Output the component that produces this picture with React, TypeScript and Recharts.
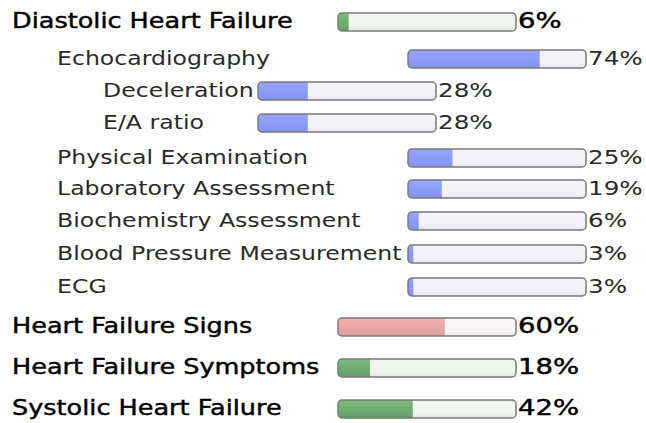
import React from 'react';
import { BarChart, Bar, XAxis, YAxis, Rectangle } from 'recharts';

// Criteria, their scores (%) and their depth in the hierarchy
const criteria = [
  'Diastolic Heart Failure',
  'Echocardiography',
  'Deceleration',
  'E/A ratio',
  'Physical Examination',
  'Laboratory Assessment',
  'Biochemistry Assessment',
  'Blood Pressure Measurement',
  'ECG',
  'Heart Failure Signs',
  'Heart Failure Symptoms',
  'Systolic Heart Failure',
];
const scores = [6, 74, 28, 28, 25, 19, 6, 3, 3, 60, 18, 42];
const depths = [0, 1, 2, 2, 1, 1, 1, 1, 1, 0, 0, 0];
const tones = ['green', 'blue', 'blue', 'blue', 'blue', 'blue', 'blue', 'blue', 'blue', 'pink', 'green', 'green'];

// Layout
const ROW_CENTERS = [22, 59, 91, 123, 158, 189, 221, 254, 287, 327, 368, 409];
const LABEL_X = [12, 57, 103];
const TRACK_X = [337, 407, 257];
const TRACK_W = 180;
const TRACK_H = 20;

const PALETTE: Record<string, { fillTop: string; fillBottom: string; trackTop: string; trackBottom: string }> = {
  green: { fillTop: '#7dba7d', fillBottom: '#64a064', trackTop: '#eef6ee', trackBottom: '#dde9dd' },
  blue: { fillTop: '#98a6fb', fillBottom: '#8392f2', trackTop: '#f3f4f9', trackBottom: '#e3e5ef' },
  pink: { fillTop: '#eeb0b0', fillBottom: '#e29e9e', trackTop: '#f9f5f5', trackBottom: '#ece6e6' },
};

const FONT = '"DejaVu Sans", Verdana, sans-serif';

// Text styles per level: heading rows vs. nested rows
const HEAD_TEXT = { fontSize: 22, stroke: '0.45px #000', color: '#000', labelStretch: 1.16, valueStretch: 1.25 };
const SUB_TEXT = { fontSize: 20, stroke: '0px', color: '#2a2a2a', labelStretch: 1.18, valueStretch: 1.23 };

function ProgressShape(props: any) {
  const { x, y, width, height, background, tone } = props;
  const bg = background || { x, y, width, height };
  return (
    <g>
      <rect x={bg.x} y={bg.y} width={bg.width} height={bg.height} rx={4} ry={4} fill={`url(#track-${tone})`} />
      {width > 0 && (
        <Rectangle
          x={x}
          y={y}
          width={width}
          height={height}
          radius={[3, 0, 0, 3]}
          fill={`url(#fill-${tone})`}
        />
      )}
      <rect
        x={bg.x}
        y={bg.y}
        width={bg.width}
        height={bg.height}
        rx={4}
        ry={4}
        fill="none"
        stroke="#7a7a7a"
        strokeWidth={1.5}
      />
    </g>
  );
}

function ScoreBar({ index }: { index: number }) {
  const tone = tones[index];
  const data = [{ name: criteria[index], value: scores[index] }];
  return (
    <BarChart
      width={TRACK_W}
      height={TRACK_H}
      data={data}
      layout="vertical"
      margin={{ top: 1, right: 1, bottom: 1, left: 1 }}
      barCategoryGap={0}
    >
      <defs>
        <linearGradient id={`fill-${tone}`} x1="0" y1="0" x2="0" y2="1">
          <stop offset="0%" stopColor={PALETTE[tone].fillTop} />
          <stop offset="100%" stopColor={PALETTE[tone].fillBottom} />
        </linearGradient>
        <linearGradient id={`track-${tone}`} x1="0" y1="0" x2="0" y2="1">
          <stop offset="0%" stopColor={PALETTE[tone].trackTop} />
          <stop offset="70%" stopColor={PALETTE[tone].trackTop} />
          <stop offset="100%" stopColor={PALETTE[tone].trackBottom} />
        </linearGradient>
      </defs>
      <XAxis type="number" domain={[0, 100]} hide />
      <YAxis type="category" dataKey="name" hide />
      <Bar
        dataKey="value"
        isAnimationActive={false}
        background={{ fill: 'none' }}
        shape={(p: any) => <ProgressShape {...p} tone={tone} />}
      />
    </BarChart>
  );
}

export default function App() {
  return (
    <div
      style={{
        position: 'absolute',
        left: 0,
        top: 0,
        width: 646,
        height: 423,
        background: '#ffffff',
        fontFamily: FONT,
      }}
    >
      {criteria.map((label, i) => {
        const depth = depths[i];
        const t = depth === 0 ? HEAD_TEXT : SUB_TEXT;
        const cy = ROW_CENTERS[i];
        const trackX = TRACK_X[depth];
        const textBox = {
          position: 'absolute' as const,
          top: cy - 16,
          height: 30,
          lineHeight: '30px',
          fontSize: t.fontSize,
          whiteSpace: 'nowrap' as const,
          color: t.color,
          WebkitTextStroke: t.stroke,
          transformOrigin: 'left center',
        };
        return (
          <React.Fragment key={label}>
            <div style={{ ...textBox, left: LABEL_X[depth], transform: `scaleX(${t.labelStretch})` }}>{label}</div>
            <div style={{ position: 'absolute', left: trackX, top: cy - TRACK_H / 2, width: TRACK_W, height: TRACK_H }}>
              <ScoreBar index={i} />
            </div>
            <div style={{ ...textBox, left: trackX + TRACK_W + 1, transform: `scaleX(${t.valueStretch})` }}>
              {`${scores[i]}%`}
            </div>
          </React.Fragment>
        );
      })}
    </div>
  );
}
